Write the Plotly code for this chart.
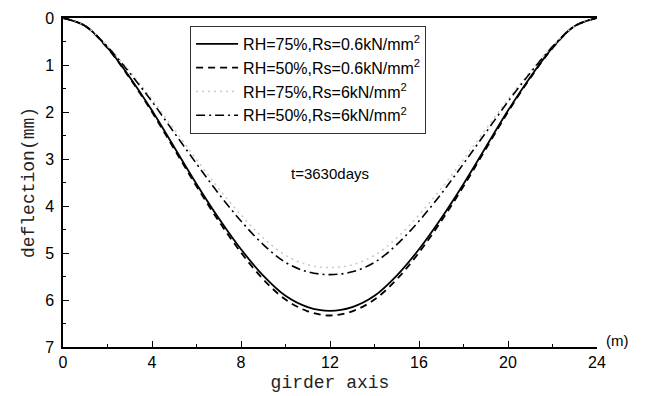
import plotly.graph_objects as go

# girder axis positions (m)
x_pos = list(range(0, 25))

# half-span deflections (mm), x = 0..12; mirrored for 13..24
half_rh75_rs06 = [0, 0.17, 0.63, 1.26, 1.97, 2.75, 3.53, 4.26, 4.92, 5.48, 5.91, 6.15, 6.23]
half_rh50_rs06 = [0, 0.17, 0.64, 1.28, 2.00, 2.79, 3.58, 4.32, 4.99, 5.56, 5.99, 6.24, 6.33]
half_rh75_rs6 = [0, 0.17, 0.60, 1.14, 1.73, 2.37, 3.01, 3.63, 4.19, 4.68, 5.05, 5.25, 5.31]
half_rh50_rs6 = [0, 0.17, 0.61, 1.17, 1.78, 2.44, 3.10, 3.74, 4.32, 4.82, 5.20, 5.40, 5.46]


def full(h):
    return h + h[-2::-1]


rh75_rs06 = full(half_rh75_rs06)
rh50_rs06 = full(half_rh50_rs06)
rh75_rs6 = full(half_rh75_rs6)
rh50_rs6 = full(half_rh50_rs6)

series_names = [
    "RH=75%,Rs=0.6kN/mm<sup>2</sup>",
    "RH=50%,Rs=0.6kN/mm<sup>2</sup>",
    "RH=75%,Rs=6kN/mm<sup>2</sup>",
    "RH=50%,Rs=6kN/mm<sup>2</sup>",
]
series_vals = [rh75_rs06, rh50_rs06, rh75_rs6, rh50_rs6]
styles = [
    dict(color="black", width=1.8, dash="solid"),
    dict(color="black", width=1.8, dash="7px,5px"),
    dict(color="#c8c8c8", width=1.5, dash="2px,4px"),
    dict(color="black", width=1.6, dash="9px,4px,2px,4px"),
]

fig = go.Figure()
for name, vals, st in zip(series_names, series_vals, styles):
    fig.add_trace(go.Scatter(x=x_pos, y=vals, mode="lines", name=name,
                             line=dict(shape="spline", smoothing=1.0, **st)))

tick_font = dict(family="Liberation Sans, Arial, sans-serif", size=16, color="black")
title_font = dict(family="Liberation Mono, Courier New, monospace", size=18, color="#222")

fig.update_layout(
    width=647, height=388,
    margin=dict(l=55, r=58, t=10, b=49, autoexpand=False),
    paper_bgcolor="white", plot_bgcolor="white",
    showlegend=True,
    legend=dict(
        x=0.238, y=0.976, xanchor="left", yanchor="top",
        bgcolor="white", bordercolor="#333", borderwidth=1,
        font=dict(family="Liberation Sans, Arial, sans-serif", size=16, color="black"),
        tracegroupgap=0, itemwidth=42,
    ),
    annotations=[
        dict(text="t=3630days", x=12, y=3.3, xref="x", yref="y", showarrow=False,
             font=dict(family="Liberation Sans, Arial, sans-serif", size=15, color="black")),
        dict(text="(m)", x=1.013, y=0.0, xref="paper", yref="paper", xanchor="left",
             yanchor="middle", showarrow=False, yshift=7,
             font=dict(family="Liberation Sans, Arial, sans-serif", size=15, color="black")),
    ],
)

fig.update_xaxes(
    range=[0, 24], tickmode="linear", tick0=0, dtick=4,
    showline=True, linecolor="black", linewidth=1.5, mirror=True,
    ticks="inside", ticklen=6, tickwidth=1.2, tickcolor="black",
    minor=dict(ticks="inside", dtick=2, ticklen=3, tickcolor="black", showgrid=False),
    showgrid=False, zeroline=False, automargin=False,
    tickfont=tick_font,
    title=dict(text="girder axis", font=title_font, standoff=5),
)
fig.update_yaxes(
    range=[7, 0], tickmode="linear", tick0=0, dtick=1,
    showline=True, linecolor="black", linewidth=1.5,
    ticks="inside", ticklen=6, tickwidth=1.2, tickcolor="black",
    minor=dict(ticks="inside", dtick=0.5, ticklen=3, tickcolor="black", showgrid=False),
    showgrid=False, zeroline=False, automargin=False,
    tickfont=tick_font, ticklabelstandoff=4,
    title=dict(text="deflection(mm)", font=title_font, standoff=6),
)

fig.write_html("out.html")
